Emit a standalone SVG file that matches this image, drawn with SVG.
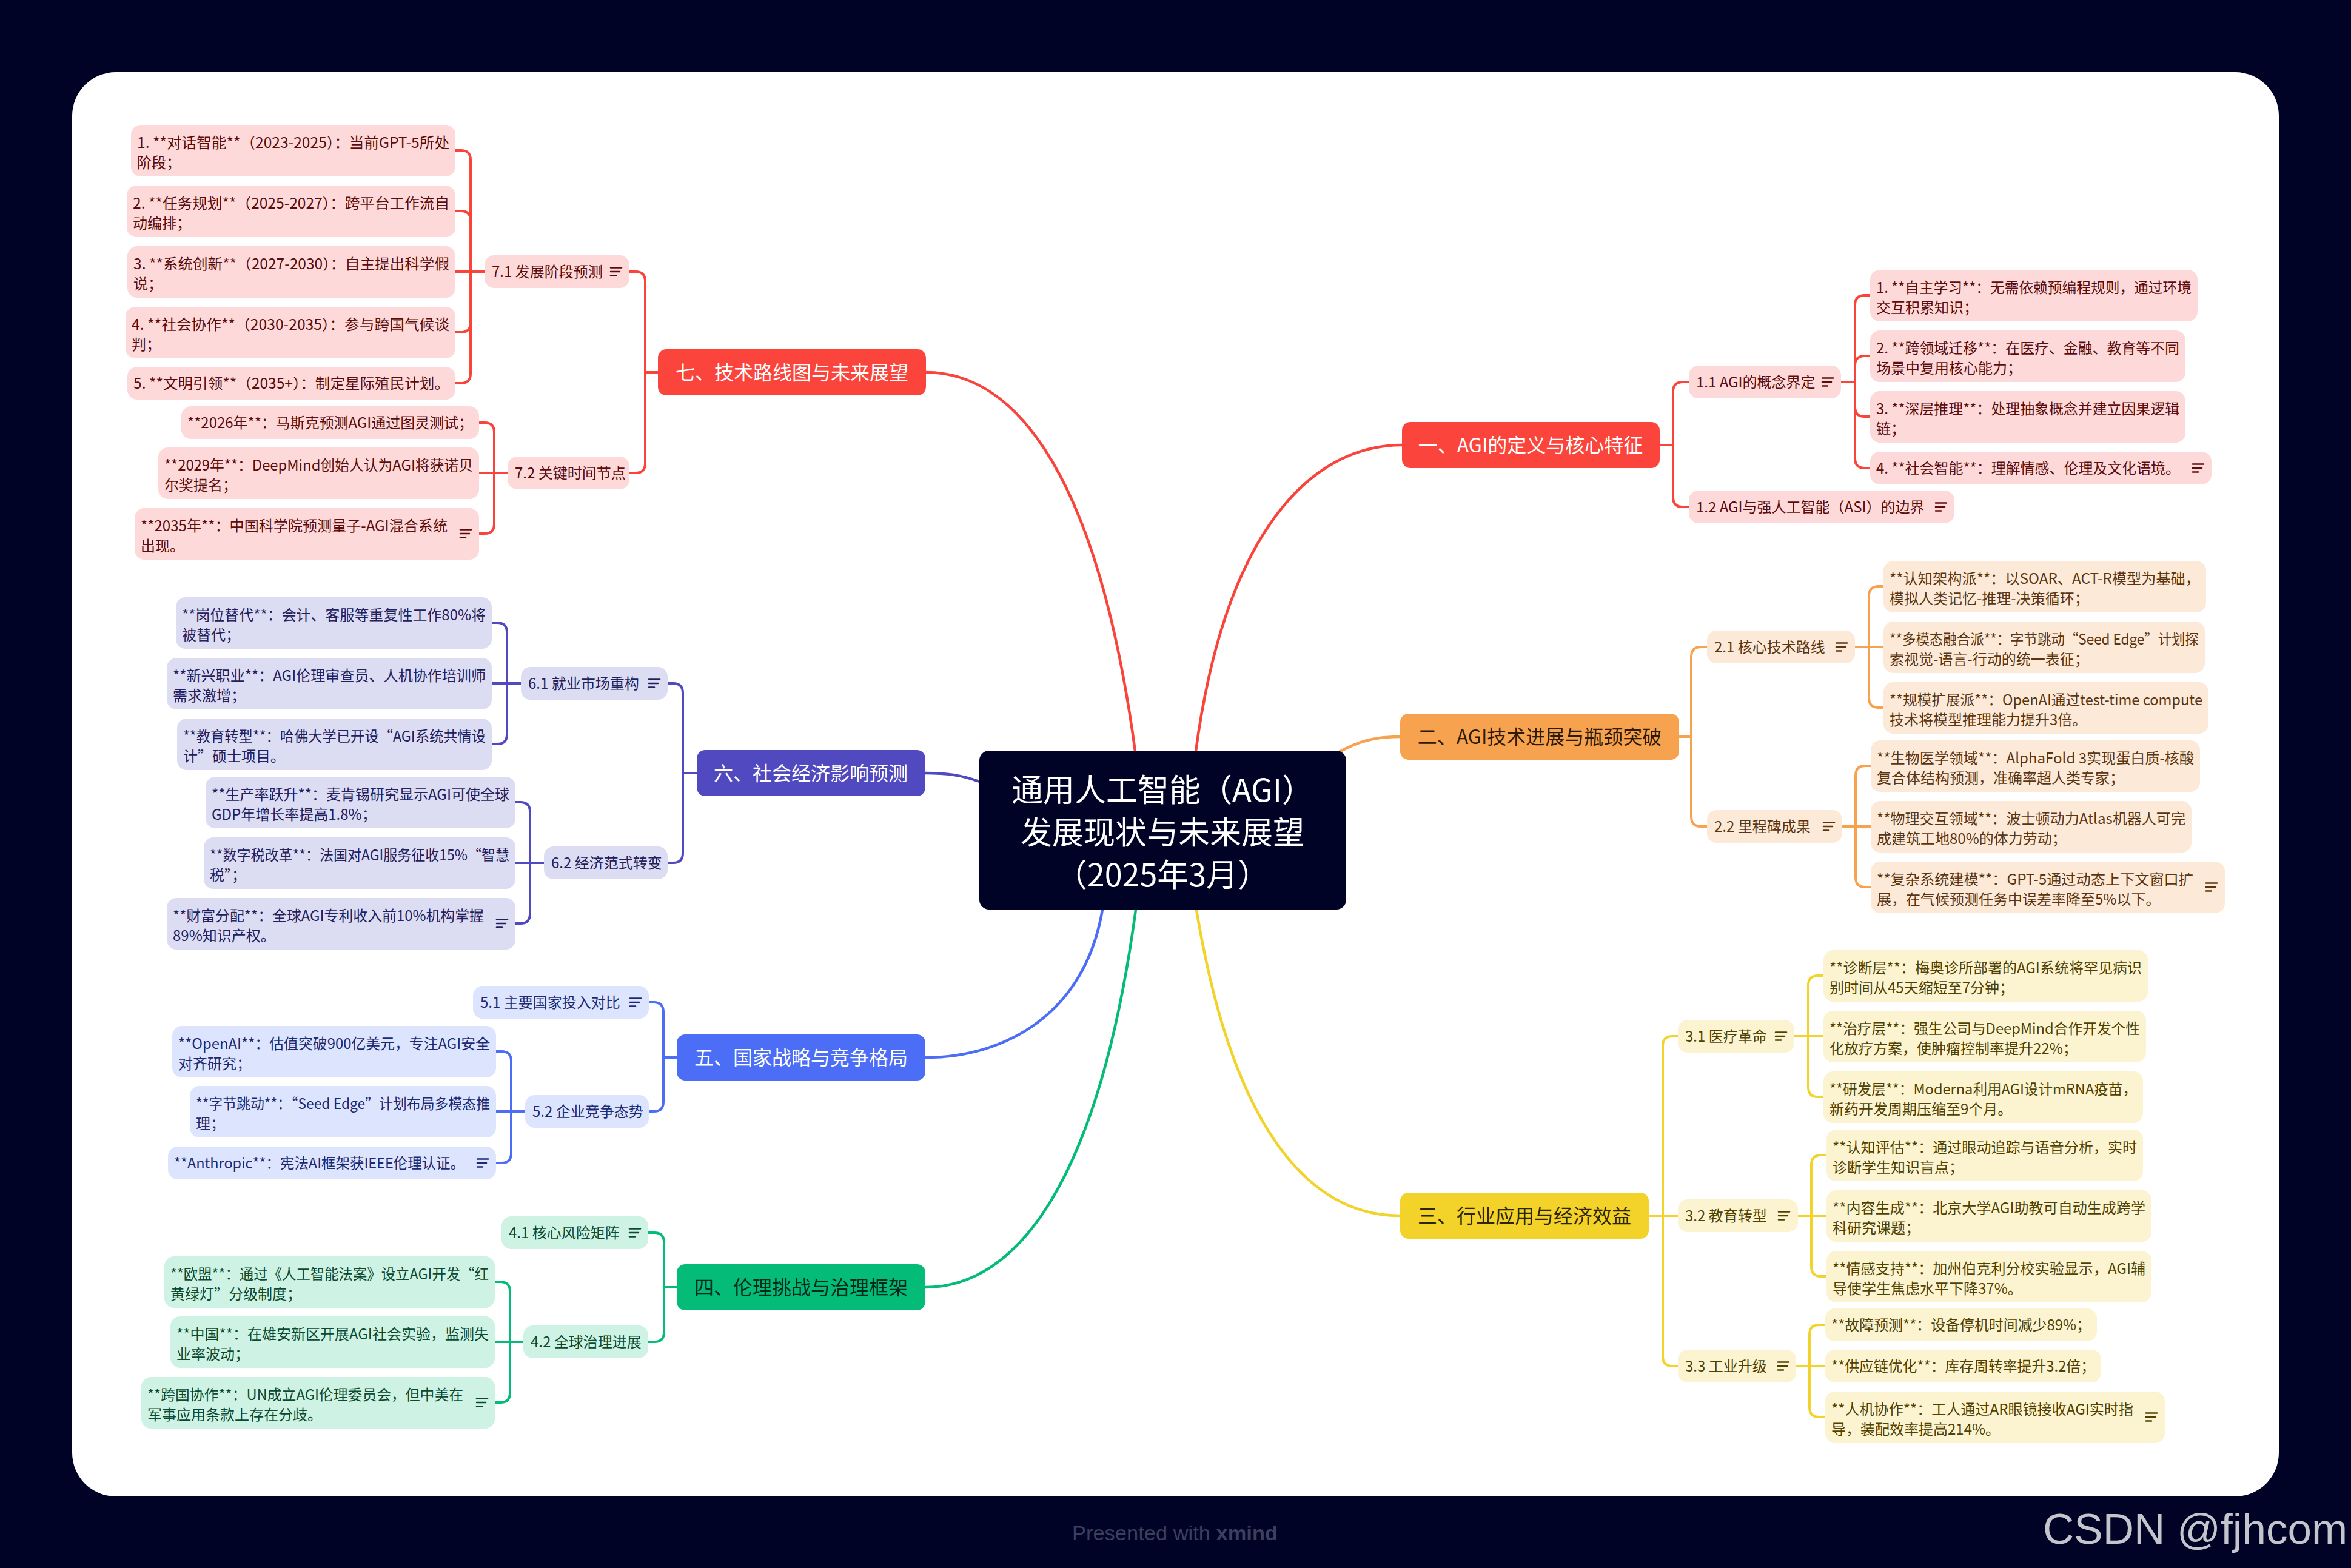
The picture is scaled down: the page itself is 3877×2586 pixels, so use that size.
<svg xmlns="http://www.w3.org/2000/svg" xmlns:xlink="http://www.w3.org/1999/xlink" width="3877" height="2586" viewBox="0 0 3877 2586">
<style>
text{font-family:"Noto Sans CJK SC","Noto Sans",sans-serif;font-size:24px}
.r rect{fill:#fdd9d9}.r text{fill:#5c0c0c}.r use{stroke:#5c0c0c}
.o rect{fill:#fde9d7}.o text{fill:#5a3512}.o use{stroke:#5a3512}
.y rect{fill:#fcf3d1}.y text{fill:#4f4100}.y use{stroke:#4f4100}
.g rect{fill:#cef2e4}.g text{fill:#0b4a31}.g use{stroke:#0b4a31}
.b rect{fill:#dde4fd}.b text{fill:#1b2a73}.b use{stroke:#1b2a73}
.p rect{fill:#dcdcf3}.p text{fill:#22205d}.p use{stroke:#22205d}
.mn text{font-size:32px;text-anchor:middle}
.m7 rect,.m1 rect{fill:#fb443b}.m7 text,.m1 text{fill:#fff}
.m2 rect{fill:#f7a24f}.m2 text{fill:#2e1a05}
.m3 rect{fill:#f3d22a}.m3 text{fill:#2d2600}
.m4 rect{fill:#05bb78}.m4 text{fill:#002a1b}
.m5 rect{fill:#4c6df6}.m5 text{fill:#fff}
.m6 rect{fill:#5049c0}.m6 text{fill:#fff}
#connectors path{fill:none;stroke-width:4;stroke-linecap:round;stroke-linejoin:round}
#connectors .main{stroke-width:4.5}
.cr{stroke:#f9443b}.co{stroke:#f6a24f}.cy{stroke:#f3d22a}.cg{stroke:#05bb78}.cb{stroke:#4c6df6}.cp{stroke:#5049c0}
use{fill:none;stroke-width:2.6;stroke-linecap:round}
</style>
<defs>
<path id="note" d="M0,-6.5h18M0,0h15M0,6.5h9"/>
</defs>
<rect x="0" y="0" width="3877" height="2586" fill="#010326"/>
<rect x="119" y="119" width="3639" height="2349" rx="72" fill="#ffffff"/>

<g id="connectors">
<path class="main cr" d="M1872,1239 C1811,789 1678,614 1527,614"/>
<path class="main cr" d="M1972,1239 C2020,880 2160,734 2312,734"/>
<path class="main co" d="M2205,1242 C2240,1222 2268,1215 2309,1215"/>
<path class="main cy" d="M1973,1500 C2033,1864 2160,2005 2309,2005"/>
<path class="main cg" d="M1873,1500 C1812,1951 1676,2123 1526,2123"/>
<path class="main cb" d="M1818,1500 C1790,1670 1660,1744 1526,1744"/>
<path class="main cp" d="M1615,1289 C1585,1278 1560,1275 1526,1275"/>

<path class="cr" d="M1085,614 H1064 V464 Q1064,448 1048,448 H1038"/>
<path class="cr" d="M1085,614 H1064 V764 Q1064,780 1048,780 H1038"/>
<path class="cr" d="M799,448 H776 V264 Q776,248 760,248 H751"/>
<path class="cr" d="M799,448 H776 V364 Q776,348 760,348 H751"/>
<path class="cr" d="M799,448 H751"/>
<path class="cr" d="M799,448 H776 V532 Q776,548 760,548 H751"/>
<path class="cr" d="M799,448 H776 V616 Q776,632 760,632 H751"/>
<path class="cr" d="M837,780 H815 V713 Q815,697 799,697 H790"/>
<path class="cr" d="M837,780 H790"/>
<path class="cr" d="M837,780 H815 V864 Q815,880 799,880 H790"/>

<path class="cp" d="M1149,1275 H1126 V1143 Q1126,1127 1110,1127 H1101"/>
<path class="cp" d="M1149,1275 H1126 V1407 Q1126,1423 1110,1423 H1101"/>
<path class="cp" d="M859,1127 H836 V1043 Q836,1027 820,1027 H811"/>
<path class="cp" d="M859,1127 H811"/>
<path class="cp" d="M859,1127 H836 V1211 Q836,1227 820,1227 H811"/>
<path class="cp" d="M897,1423 H874 V1339 Q874,1323 858,1323 H850"/>
<path class="cp" d="M897,1423 H850"/>
<path class="cp" d="M897,1423 H874 V1507 Q874,1523 858,1523 H850"/>

<path class="cb" d="M1116,1744 H1094 V1669 Q1094,1653 1078,1653 H1070"/>
<path class="cb" d="M1116,1744 H1094 V1817 Q1094,1833 1078,1833 H1070"/>
<path class="cb" d="M866,1833 H843 V1750 Q843,1734 827,1734 H818"/>
<path class="cb" d="M866,1833 H818"/>
<path class="cb" d="M866,1833 H843 V1902 Q843,1918 827,1918 H818"/>

<path class="cg" d="M1116,2123 H1095 V2049 Q1095,2033 1079,2033 H1069"/>
<path class="cg" d="M1116,2123 H1095 V2197 Q1095,2213 1079,2213 H1069"/>
<path class="cg" d="M863,2213 H841 V2130 Q841,2114 825,2114 H816"/>
<path class="cg" d="M863,2213 H816"/>
<path class="cg" d="M863,2213 H841 V2297 Q841,2313 825,2313 H816"/>

<path class="cr" d="M2737,734 H2759 V646 Q2759,630 2775,630 H2785"/>
<path class="cr" d="M2737,734 H2759 V820 Q2759,836 2775,836 H2785"/>
<path class="cr" d="M3036,630 H3059 V503 Q3059,487 3075,487 H3084"/>
<path class="cr" d="M3036,630 H3059 V603 Q3059,587 3075,587 H3084"/>
<path class="cr" d="M3036,630 H3059 V671 Q3059,687 3075,687 H3084"/>
<path class="cr" d="M3036,630 H3059 V756 Q3059,772 3075,772 H3084"/>

<path class="co" d="M2769,1215 H2789 V1083 Q2789,1067 2805,1067 H2815"/>
<path class="co" d="M2769,1215 H2789 V1347 Q2789,1363 2805,1363 H2815"/>
<path class="co" d="M3059,1067 H3082 V983 Q3082,967 3098,967 H3106"/>
<path class="co" d="M3059,1067 H3106"/>
<path class="co" d="M3059,1067 H3082 V1151 Q3082,1167 3098,1167 H3106"/>
<path class="co" d="M3038,1363 H3060 V1279 Q3060,1263 3076,1263 H3085"/>
<path class="co" d="M3038,1363 H3085"/>
<path class="co" d="M3038,1363 H3060 V1447 Q3060,1463 3076,1463 H3085"/>

<path class="cy" d="M2719,2005 H2742 V1725 Q2742,1709 2758,1709 H2767"/>
<path class="cy" d="M2719,2005 H2767"/>
<path class="cy" d="M2719,2005 H2742 V2237 Q2742,2253 2758,2253 H2767"/>
<path class="cy" d="M2959,1709 H2982 V1625 Q2982,1609 2998,1609 H3007"/>
<path class="cy" d="M2959,1709 H3007"/>
<path class="cy" d="M2959,1709 H2982 V1793 Q2982,1809 2998,1809 H3007"/>
<path class="cy" d="M2965,2005 H2987 V1921 Q2987,1905 3003,1905 H3012"/>
<path class="cy" d="M2965,2005 H3012"/>
<path class="cy" d="M2965,2005 H2987 V2089 Q2987,2105 3003,2105 H3012"/>
<path class="cy" d="M2962,2253 H2984 V2201 Q2984,2185 3000,2185 H3010"/>
<path class="cy" d="M2962,2253 H3010"/>
<path class="cy" d="M2962,2253 H2984 V2321 Q2984,2337 3000,2337 H3010"/>
</g>

<g id="center">
<rect x="1615" y="1238" width="605" height="262" rx="16" fill="#010326"/>
<text x="1917" y="1322" fill="#ffffff" text-anchor="middle" style="font-size:52px">通用人工智能（AGI）</text>
<text x="1917" y="1392" fill="#ffffff" text-anchor="middle" style="font-size:52px">发展现状与未来展望</text>
<text x="1917" y="1462" fill="#ffffff" text-anchor="middle" style="font-size:52px">（2025年3月）</text>
</g>

<g id="n1" class="mn m1"><rect x="2312" y="696" width="425" height="76" rx="14"/><text x="2524" y="746">一、AGI的定义与核心特征</text></g>
<g id="n2" class="mn m2"><rect x="2309" y="1177" width="460" height="76" rx="14"/><text x="2539" y="1227">二、AGI技术进展与瓶颈突破</text></g>
<g id="n3" class="mn m3"><rect x="2309" y="1967" width="410" height="76" rx="14"/><text x="2514" y="2017">三、行业应用与经济效益</text></g>
<g id="n4" class="mn m4"><rect x="1116" y="2085" width="410" height="76" rx="14"/><text x="1321" y="2135">四、伦理挑战与治理框架</text></g>
<g id="n5" class="mn m5"><rect x="1116" y="1706" width="410" height="76" rx="14"/><text x="1321" y="1756">五、国家战略与竞争格局</text></g>
<g id="n6" class="mn m6"><rect x="1149" y="1237" width="377" height="76" rx="14"/><text x="1337" y="1287">六、社会经济影响预测</text></g>
<g id="n7" class="mn m7"><rect x="1085" y="576" width="442" height="76" rx="14"/><text x="1306" y="626">七、技术路线图与未来展望</text></g>

<g id="s71" class="r"><rect x="799" y="421" width="239" height="54" rx="16"/><text x="811" y="457">7.1 发展阶段预测</text><use href="#note" x="1007" y="448"/></g>
<g id="s72" class="r"><rect x="837" y="753" width="201" height="54" rx="16"/><text x="849" y="789">7.2 关键时间节点</text></g>
<g id="s61" class="p"><rect x="859" y="1100" width="242" height="54" rx="16"/><text x="871" y="1136">6.1 就业市场重构</text><use href="#note" x="1070" y="1127"/></g>
<g id="s62" class="p"><rect x="897" y="1396" width="204" height="54" rx="16"/><text x="909" y="1432">6.2 经济范式转变</text></g>
<g id="s51" class="b"><rect x="780" y="1626" width="290" height="54" rx="16"/><text x="792" y="1662">5.1 主要国家投入对比</text><use href="#note" x="1039" y="1653"/></g>
<g id="s52" class="b"><rect x="866" y="1806" width="204" height="54" rx="16"/><text x="878" y="1842">5.2 企业竞争态势</text></g>
<g id="s41" class="g"><rect x="827" y="2006" width="242" height="54" rx="16"/><text x="839" y="2042">4.1 核心风险矩阵</text><use href="#note" x="1038" y="2033"/></g>
<g id="s42" class="g"><rect x="863" y="2186" width="206" height="54" rx="16"/><text x="875" y="2222">4.2 全球治理进展</text></g>
<g id="s11" class="r"><rect x="2785" y="603" width="251" height="54" rx="16"/><text x="2797" y="639">1.1 AGI的概念界定</text><use href="#note" x="3005" y="630"/></g>
<g id="s12" class="r"><rect x="2785" y="809" width="438" height="54" rx="16"/><text x="2797" y="845">1.2 AGI与强人工智能（ASI）的边界</text><use href="#note" x="3192" y="836"/></g>
<g id="s21" class="o"><rect x="2815" y="1040" width="244" height="54" rx="16"/><text x="2827" y="1076">2.1 核心技术路线</text><use href="#note" x="3028" y="1067"/></g>
<g id="s22" class="o"><rect x="2815" y="1336" width="223" height="54" rx="16"/><text x="2827" y="1372">2.2 里程碑成果</text><use href="#note" x="3007" y="1363"/></g>
<g id="s31" class="y"><rect x="2767" y="1682" width="192" height="54" rx="16"/><text x="2779" y="1718">3.1 医疗革命</text><use href="#note" x="2928" y="1709"/></g>
<g id="s32" class="y"><rect x="2767" y="1978" width="198" height="54" rx="16"/><text x="2779" y="2014">3.2 教育转型</text><use href="#note" x="2933" y="2005"/></g>
<g id="s33" class="y"><rect x="2767" y="2226" width="195" height="54" rx="16"/><text x="2779" y="2262">3.3 工业升级</text><use href="#note" x="2932" y="2253"/></g>

<g id="L711" class="r"><rect x="216" y="206" width="535" height="85" rx="16"/><text x="226" y="244" textLength="515" lengthAdjust="spacingAndGlyphs">1. **对话智能**（2023-2025）：当前GPT-5所处</text><text x="226" y="277">阶段；</text></g>
<g id="L712" class="r"><rect x="209" y="306" width="542" height="85" rx="16"/><text x="219" y="344" textLength="522" lengthAdjust="spacingAndGlyphs">2. **任务规划**（2025-2027）：跨平台工作流自</text><text x="219" y="377">动编排；</text></g>
<g id="L713" class="r"><rect x="210" y="406" width="541" height="85" rx="16"/><text x="220" y="444" textLength="521" lengthAdjust="spacingAndGlyphs">3. **系统创新**（2027-2030）：自主提出科学假</text><text x="220" y="477">说；</text></g>
<g id="L714" class="r"><rect x="207" y="506" width="544" height="85" rx="16"/><text x="217" y="544" textLength="524" lengthAdjust="spacingAndGlyphs">4. **社会协作**（2030-2035）：参与跨国气候谈</text><text x="217" y="577">判；</text></g>
<g id="L715" class="r"><rect x="210" y="605" width="541" height="54" rx="16"/><text x="220" y="641" textLength="521" lengthAdjust="spacingAndGlyphs">5. **文明引领**（2035+）：制定星际殖民计划。</text></g>
<g id="L721" class="r"><rect x="299" y="670" width="491" height="54" rx="16"/><text x="309" y="706" textLength="471" lengthAdjust="spacingAndGlyphs">**2026年**：马斯克预测AGI通过图灵测试；</text></g>
<g id="L722" class="r"><rect x="261" y="738" width="529" height="85" rx="16"/><text x="271" y="776" textLength="509" lengthAdjust="spacingAndGlyphs">**2029年**：DeepMind创始人认为AGI将获诺贝</text><text x="271" y="809">尔奖提名；</text></g>
<g id="L723" class="r"><rect x="222" y="838" width="568" height="85" rx="16"/><text x="232" y="876" textLength="506" lengthAdjust="spacingAndGlyphs">**2035年**：中国科学院预测量子-AGI混合系统</text><text x="232" y="909">出现。</text><use href="#note" x="759" y="880"/></g>

<g id="L611" class="p"><rect x="290" y="985" width="521" height="85" rx="16"/><text x="300" y="1023" textLength="501" lengthAdjust="spacingAndGlyphs">**岗位替代**：会计、客服等重复性工作80%将</text><text x="300" y="1056">被替代；</text></g>
<g id="L612" class="p"><rect x="275" y="1085" width="536" height="85" rx="16"/><text x="285" y="1123" textLength="516" lengthAdjust="spacingAndGlyphs">**新兴职业**：AGI伦理审查员、人机协作培训师</text><text x="285" y="1156">需求激增；</text></g>
<g id="L613" class="p"><rect x="292" y="1185" width="519" height="85" rx="16"/><text x="302" y="1223" textLength="499" lengthAdjust="spacingAndGlyphs">**教育转型**：哈佛大学已开设“AGI系统共情设</text><text x="302" y="1256">计”硕士项目。</text></g>
<g id="L621" class="p"><rect x="339" y="1281" width="511" height="85" rx="16"/><text x="349" y="1319" textLength="491" lengthAdjust="spacingAndGlyphs">**生产率跃升**：麦肯锡研究显示AGI可使全球</text><text x="349" y="1352">GDP年增长率提高1.8%；</text></g>
<g id="L622" class="p"><rect x="336" y="1381" width="514" height="85" rx="16"/><text x="346" y="1419" textLength="494" lengthAdjust="spacingAndGlyphs">**数字税改革**：法国对AGI服务征收15%“智慧</text><text x="346" y="1452">税”；</text></g>
<g id="L623" class="p"><rect x="275" y="1481" width="575" height="85" rx="16"/><text x="285" y="1519" textLength="513" lengthAdjust="spacingAndGlyphs">**财富分配**：全球AGI专利收入前10%机构掌握</text><text x="285" y="1552">89%知识产权。</text><use href="#note" x="819" y="1523"/></g>

<g id="L521" class="b"><rect x="284" y="1692" width="534" height="85" rx="16"/><text x="294" y="1730" textLength="514" lengthAdjust="spacingAndGlyphs">**OpenAI**：估值突破900亿美元，专注AGI安全</text><text x="294" y="1763">对齐研究；</text></g>
<g id="L522" class="b"><rect x="313" y="1791" width="505" height="85" rx="16"/><text x="323" y="1829" textLength="485" lengthAdjust="spacingAndGlyphs">**字节跳动**：“Seed Edge”计划布局多模态推</text><text x="323" y="1862">理；</text></g>
<g id="L523" class="b"><rect x="277" y="1891" width="541" height="54" rx="16"/><text x="287" y="1927" textLength="479" lengthAdjust="spacingAndGlyphs">**Anthropic**：宪法AI框架获IEEE伦理认证。</text><use href="#note" x="787" y="1918"/></g>

<g id="L421" class="g"><rect x="271" y="2072" width="545" height="85" rx="16"/><text x="281" y="2110" textLength="525" lengthAdjust="spacingAndGlyphs">**欧盟**：通过《人工智能法案》设立AGI开发“红</text><text x="281" y="2143">黄绿灯”分级制度；</text></g>
<g id="L422" class="g"><rect x="281" y="2171" width="535" height="85" rx="16"/><text x="291" y="2209" textLength="515" lengthAdjust="spacingAndGlyphs">**中国**：在雄安新区开展AGI社会实验，监测失</text><text x="291" y="2242">业率波动；</text></g>
<g id="L423" class="g"><rect x="233" y="2271" width="583" height="85" rx="16"/><text x="243" y="2309" textLength="521" lengthAdjust="spacingAndGlyphs">**跨国协作**：UN成立AGI伦理委员会，但中美在</text><text x="243" y="2342">军事应用条款上存在分歧。</text><use href="#note" x="786" y="2313"/></g>

<g id="L111" class="r"><rect x="3084" y="445" width="540" height="85" rx="16"/><text x="3094" y="483" textLength="520" lengthAdjust="spacingAndGlyphs">1. **自主学习**：无需依赖预编程规则，通过环境</text><text x="3094" y="516">交互积累知识；</text></g>
<g id="L112" class="r"><rect x="3084" y="545" width="520" height="85" rx="16"/><text x="3094" y="583" textLength="500" lengthAdjust="spacingAndGlyphs">2. **跨领域迁移**：在医疗、金融、教育等不同</text><text x="3094" y="616">场景中复用核心能力；</text></g>
<g id="L113" class="r"><rect x="3084" y="645" width="520" height="85" rx="16"/><text x="3094" y="683" textLength="500" lengthAdjust="spacingAndGlyphs">3. **深层推理**：处理抽象概念并建立因果逻辑</text><text x="3094" y="716">链；</text></g>
<g id="L114" class="r"><rect x="3084" y="745" width="563" height="54" rx="16"/><text x="3094" y="781" textLength="501" lengthAdjust="spacingAndGlyphs">4. **社会智能**：理解情感、伦理及文化语境。</text><use href="#note" x="3616" y="772"/></g>

<g id="L211" class="o"><rect x="3106" y="925" width="532" height="85" rx="16"/><text x="3116" y="963" textLength="512" lengthAdjust="spacingAndGlyphs">**认知架构派**：以SOAR、ACT-R模型为基础，</text><text x="3116" y="996">模拟人类记忆-推理-决策循环；</text></g>
<g id="L212" class="o"><rect x="3106" y="1025" width="530" height="85" rx="16"/><text x="3116" y="1063" textLength="510" lengthAdjust="spacingAndGlyphs">**多模态融合派**：字节跳动“Seed Edge”计划探</text><text x="3116" y="1096">索视觉-语言-行动的统一表征；</text></g>
<g id="L213" class="o"><rect x="3106" y="1125" width="536" height="85" rx="16"/><text x="3116" y="1163" textLength="516" lengthAdjust="spacingAndGlyphs">**规模扩展派**：OpenAI通过test-time compute</text><text x="3116" y="1196">技术将模型推理能力提升3倍。</text></g>
<g id="L221" class="o"><rect x="3085" y="1221" width="543" height="85" rx="16"/><text x="3095" y="1259" textLength="523" lengthAdjust="spacingAndGlyphs">**生物医学领域**：AlphaFold 3实现蛋白质-核酸</text><text x="3095" y="1292">复合体结构预测，准确率超人类专家；</text></g>
<g id="L222" class="o"><rect x="3085" y="1321" width="529" height="85" rx="16"/><text x="3095" y="1359" textLength="509" lengthAdjust="spacingAndGlyphs">**物理交互领域**：波士顿动力Atlas机器人可完</text><text x="3095" y="1392">成建筑工地80%的体力劳动；</text></g>
<g id="L223" class="o"><rect x="3085" y="1421" width="584" height="85" rx="16"/><text x="3095" y="1459" textLength="522" lengthAdjust="spacingAndGlyphs">**复杂系统建模**：GPT-5通过动态上下文窗口扩</text><text x="3095" y="1492">展，在气候预测任务中误差率降至5%以下。</text><use href="#note" x="3638" y="1463"/></g>

<g id="L311" class="y"><rect x="3007" y="1567" width="535" height="85" rx="16"/><text x="3017" y="1605" textLength="515" lengthAdjust="spacingAndGlyphs">**诊断层**：梅奥诊所部署的AGI系统将罕见病识</text><text x="3017" y="1638">别时间从45天缩短至7分钟；</text></g>
<g id="L312" class="y"><rect x="3007" y="1667" width="532" height="85" rx="16"/><text x="3017" y="1705" textLength="512" lengthAdjust="spacingAndGlyphs">**治疗层**：强生公司与DeepMind合作开发个性</text><text x="3017" y="1738">化放疗方案，使肿瘤控制率提升22%；</text></g>
<g id="L313" class="y"><rect x="3007" y="1767" width="527" height="85" rx="16"/><text x="3017" y="1805" textLength="507" lengthAdjust="spacingAndGlyphs">**研发层**：Moderna利用AGI设计mRNA疫苗，</text><text x="3017" y="1838">新药开发周期压缩至9个月。</text></g>
<g id="L321" class="y"><rect x="3012" y="1863" width="522" height="85" rx="16"/><text x="3022" y="1901" textLength="502" lengthAdjust="spacingAndGlyphs">**认知评估**：通过眼动追踪与语音分析，实时</text><text x="3022" y="1934">诊断学生知识盲点；</text></g>
<g id="L322" class="y"><rect x="3012" y="1963" width="536" height="85" rx="16"/><text x="3022" y="2001" textLength="516" lengthAdjust="spacingAndGlyphs">**内容生成**：北京大学AGI助教可自动生成跨学</text><text x="3022" y="2034">科研究课题；</text></g>
<g id="L323" class="y"><rect x="3012" y="2063" width="536" height="85" rx="16"/><text x="3022" y="2101" textLength="516" lengthAdjust="spacingAndGlyphs">**情感支持**：加州伯克利分校实验显示，AGI辅</text><text x="3022" y="2134">导使学生焦虑水平下降37%。</text></g>
<g id="L331" class="y"><rect x="3010" y="2158" width="448" height="54" rx="16"/><text x="3020" y="2194" textLength="428" lengthAdjust="spacingAndGlyphs">**故障预测**：设备停机时间减少89%；</text></g>
<g id="L332" class="y"><rect x="3010" y="2226" width="455" height="54" rx="16"/><text x="3020" y="2262" textLength="435" lengthAdjust="spacingAndGlyphs">**供应链优化**：库存周转率提升3.2倍；</text></g>
<g id="L333" class="y"><rect x="3010" y="2295" width="560" height="85" rx="16"/><text x="3020" y="2333" textLength="498" lengthAdjust="spacingAndGlyphs">**人机协作**：工人通过AR眼镜接收AGI实时指</text><text x="3020" y="2366">导，装配效率提高214%。</text><use href="#note" x="3539" y="2337"/></g>

<g id="footer">
<text x="1768" y="2540" textLength="339" lengthAdjust="spacingAndGlyphs" style="font-family:'Liberation Sans',Arial,sans-serif;font-size:33px;fill:#3d3f5e">Presented with <tspan style="font-weight:bold">xmind</tspan></text>
<text x="3369" y="2546" style="font-family:'Liberation Sans',Arial,sans-serif;font-size:71px;fill:#c4c5cc">CSDN @fjhcom</text>
</g>
</svg>
